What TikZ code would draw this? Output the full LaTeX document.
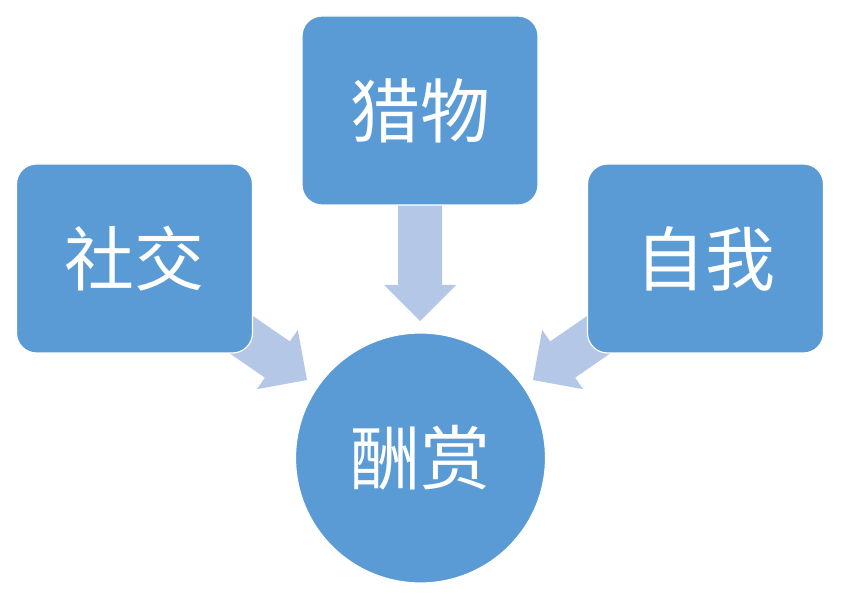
\documentclass[tikz,border=0pt]{standalone}
\usepackage{fontspec}
\newfontfamily\cjk{Noto Sans CJK SC}
\definecolor{boxblue}{HTML}{5B9BD5}
\definecolor{arrowblue}{HTML}{B4C7E7}
\begin{document}
\begin{tikzpicture}[x=1pt,y=-1pt,
  box/.style={draw=white, line width=1.2pt, fill=boxblue, rounded corners=20pt,
    minimum width=236pt, minimum height=189pt, inner sep=0pt,
    text=white, font=\cjk\fontsize{70}{70}\selectfont},
  hub/.style={draw=white, line width=1.2pt, fill=boxblue, circle,
    minimum size=250pt, inner sep=0pt,
    text=white, font=\cjk\fontsize{70}{70}\selectfont},
  blockarrow/.style={fill=arrowblue, draw=none}]
\useasboundingbox (0,0) rectangle (847,596);
\fill[white] (0,0) rectangle (847,596);
% block arrows (drawn first, boxes over them)
\coordinate (tipL) at (307,380);
\coordinate (tipT) at (420,321);
\coordinate (tipR) at (533,380);
\begin{scope}[shift={(tipL)}, rotate=-34.6]
  \fill[blockarrow] (0pt,0pt) -- (-36pt,36pt) -- (-36pt,22pt) -- (-130pt,22pt)
    -- (-130pt,-22pt) -- (-36pt,-22pt) -- (-36pt,-36pt) -- cycle;
\end{scope}
\begin{scope}[shift={(tipR)}, rotate=-145.4]
  \fill[blockarrow] (0pt,0pt) -- (-36pt,36pt) -- (-36pt,22pt) -- (-130pt,22pt)
    -- (-130pt,-22pt) -- (-36pt,-22pt) -- (-36pt,-36pt) -- cycle;
\end{scope}
\begin{scope}[shift={(tipT)}, rotate=-90]
  \fill[blockarrow] (0pt,0pt) -- (-36pt,36pt) -- (-36pt,22pt) -- (-117pt,22pt)
    -- (-117pt,-22pt) -- (-36pt,-22pt) -- (-36pt,-36pt) -- cycle;
\end{scope}
% boxes
\node[box] (social) at (134.5,258.5) {社交};
\node[box] (prey) at (420,110.5) {猎物};
\node[box] (self) at (705.5,258.5) {自我};
\node[hub] (reward) at (420.5,458) {酬赏};
\end{tikzpicture}
\end{document}
